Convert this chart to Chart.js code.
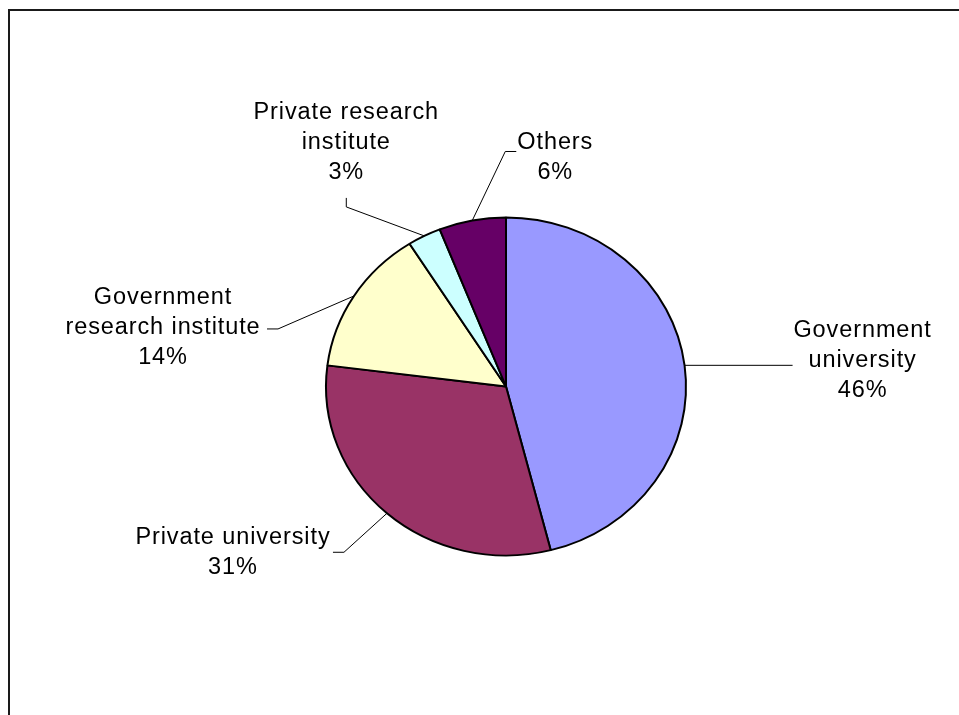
<!DOCTYPE html>
<html>
<head>
<meta charset="utf-8">
<script src="https://cdn.jsdelivr.net/npm/chart.js@4/dist/chart.umd.min.js"></script>
<style>
  html, body { margin: 0; padding: 0; background: #fff; }
  #wrap { width: 959px; height: 715px; }
</style>
</head>
<body>
<div id="wrap"><canvas id="pieChart" width="959" height="715"></canvas></div>
<script>
// Slice names (one entry per text line) and their shares in percent
const categories = [
  ["Government", "university"],
  ["Private university"],
  ["Government", "research institute"],
  ["Private research", "institute"],
  ["Others"],
];
const shares = [46, 31, 14, 3, 6];
const sliceColors = ["#9999FF", "#993366", "#FFFFCC", "#CCFFFF", "#660066"];

// where each label sits relative to its slice's edge point, plus the leader line bends
const labelLayout = [
  { text: [178, -5], leader: [[108, 0]] },
  { text: [-154, 39], leader: [[-43, 39], [-54, 39]] },
  { text: [-191, 32], leader: [[-76, 33], [-87, 33]] },
  { text: [-78, -93], leader: [[-78, -29], [-78, -38]] },
  { text: [83, -63], leader: [[33, -69], [44, -69]] },
];

const squash = 169 / 180; // pie is drawn slightly flattened

function edgePoint(arc) {
  const mid = (arc.startAngle + arc.endAngle) / 2;
  return {
    x: arc.x + arc.outerRadius * Math.cos(mid),
    y: arc.y + arc.outerRadius * squash * Math.sin(mid),
  };
}

const frame = {
  id: "frame",
  beforeDraw(chart) {
    const ctx = chart.ctx;
    ctx.save();
    ctx.fillStyle = "#fff";
    ctx.fillRect(0, 0, chart.width, chart.height);
    ctx.strokeStyle = "#1a1a1a";
    ctx.lineWidth = 2;
    ctx.strokeRect(9, 10, chart.width + 20, chart.height + 20);
    ctx.restore();
  },
};

const flatten = {
  id: "flatten",
  beforeDatasetsDraw(chart) {
    const arc = chart.getDatasetMeta(0).data[0];
    const ctx = chart.ctx;
    ctx.save();
    ctx.translate(arc.x, arc.y);
    ctx.scale(1, squash);
    ctx.translate(-arc.x, -arc.y);
  },
  afterDatasetsDraw(chart) {
    chart.ctx.restore();
  },
};

const sliceLabels = {
  id: "sliceLabels",
  afterDraw(chart) {
    const ctx = chart.ctx;
    const arcs = chart.getDatasetMeta(0).data;
    ctx.save();
    ctx.strokeStyle = "#000";
    ctx.lineWidth = 1;
    ctx.fillStyle = "#000";
    ctx.font = "23.5px 'Liberation Sans', Arial, sans-serif";
    ctx.letterSpacing = "0.9px";
    ctx.textAlign = "center";
    ctx.textBaseline = "middle";
    arcs.forEach((arc, i) => {
      const p = edgePoint(arc);
      const lay = labelLayout[i];
      ctx.beginPath();
      ctx.moveTo(p.x, p.y);
      lay.leader.forEach(([dx, dy]) => ctx.lineTo(p.x + dx, p.y + dy));
      ctx.stroke();

      const lines = categories[i].concat([shares[i] + "%"]);
      const cx = p.x + lay.text[0];
      const cy = p.y + lay.text[1];
      lines.forEach((line, j) => {
        ctx.fillText(line, cx, cy + (j - (lines.length - 1) / 2) * 30);
      });
    });
    ctx.restore();
  },
};

new Chart(document.getElementById("pieChart"), {
  type: "pie",
  data: {
    labels: categories.map((c) => c.join(" ")),
    datasets: [
      {
        data: shares,
        backgroundColor: sliceColors,
        borderColor: "#000",
        borderWidth: 2,
      },
    ],
  },
  options: {
    responsive: false,
    animation: false,
    radius: 180,
    layout: {
      padding: { left: 325, right: 272, top: 205.5, bottom: 147.5 },
    },
    plugins: {
      legend: { display: false },
      tooltip: { enabled: false },
    },
  },
  plugins: [frame, flatten, sliceLabels],
});
</script>
</body>
</html>
